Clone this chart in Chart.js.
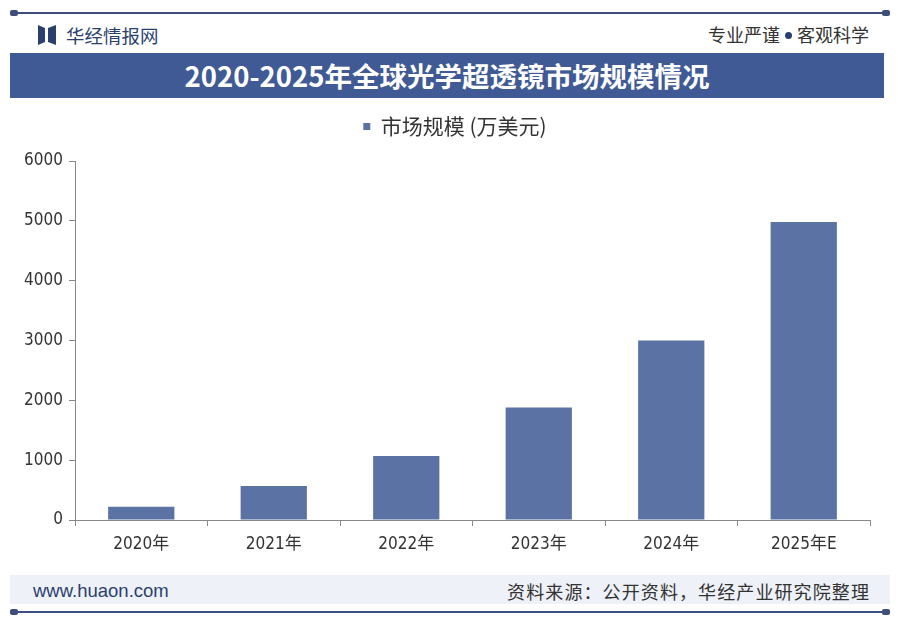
<!DOCTYPE html>
<html>
<head>
<meta charset="utf-8">
<script src="https://cdn.jsdelivr.net/npm/chart.js@4"></script>
<style>
  body { margin:0; width:900px; height:628px; background:#fff; position:relative; overflow:hidden;
         font-family:"Noto Sans CJK SC", "Liberation Sans", sans-serif; }
  .rule { position:absolute; left:10px; width:880px; height:2px; background:#3b4e7c; }
  .rule:before, .rule:after { content:""; position:absolute; top:-2px; width:8px; height:6px; background:#3b4e7c; border-radius:2px; }
  .rule:before { left:0; } .rule:after { right:0; }
  #brand { position:absolute; left:38px; top:22px; font-size:18.5px; color:#2b3f6e; display:flex; align-items:center; }
  #brand svg { margin-right:10px; }
  #motto { position:absolute; right:31px; top:21px; font-size:18px; color:#333; }
  #motto .dot { display:inline-block; width:7px; height:7px; border-radius:50%; background:#2b3f6e; vertical-align:middle; margin:0 5px 3px 5px; }
  #titlebar { position:absolute; left:10px; top:53px; width:874px; height:45px; background:#3f5a94;
              color:#fff; font-size:27.5px; font-weight:bold; text-align:center; line-height:45px; }
  #wrap { position:absolute; left:0; top:100px; width:900px; height:470px; }
  #footer { position:absolute; left:10px; top:575px; width:880px; height:29px; background:#eef1f8; }
  #site { position:absolute; left:23px; top:5px; font-size:18.5px; color:#2b3f6e; font-family:"Liberation Sans", sans-serif; }
  #source { position:absolute; right:20px; top:3px; font-size:18px; color:#333; letter-spacing:1.1px; }
</style>
</head>
<body>
<div class="rule" style="top:12px"></div>
<div id="brand">
  <svg width="18" height="20" viewBox="0 0 18 20"><path d="M0 0 L7 3 L7 17 L0 20 Z" fill="#2b3f6e"/><path d="M18 0 L10 3 L10 17 L18 20 Z" fill="#2b3f6e"/></svg>
  华经情报网
</div>
<div id="motto">专业严谨<span class="dot"></span>客观科学</div>
<div id="titlebar">2020-2025年全球光学超透镜市场规模情况</div>
<div id="wrap"><canvas id="mycanvas"></canvas></div>
<div id="footer">
  <div id="site">www.huaon.com</div>
  <div id="source">资料来源：公开资料，华经产业研究院整理</div>
</div>
<div class="rule" style="top:611px"></div>
<script>
var years = ["2020年", "2021年", "2022年", "2023年", "2024年", "2025年E"];
var marketSize = [220, 570, 1070, 1880, 3000, 4980];
var seriesName = "市场规模 (万美元)";

var tickFont = { family: "'Liberation Sans Narrow', 'DejaVu Sans Condensed', 'Noto Sans CJK SC', sans-serif", size: 17 };

// legend: leave a gap below it and nudge it right, like the original
var legendTweak = {
  id: 'legendTweak',
  beforeInit: function(chart) {
    var lg = chart.legend;
    var fit = lg.fit, draw = lg.draw;
    lg.fit = function() {
      fit.call(this);
      this.height += 14;
    };
    lg.draw = function() {
      var c = this.ctx;
      c.save();
      c.translate(20, 0);
      draw.call(this);
      c.restore();
    };
  }
};

var chartdata = {
  labels: years,
  datasets: [
    {
      label: seriesName,
      backgroundColor: '#5b72a4',
      borderWidth: 0,
      data: marketSize,
      categoryPercentage: 0.5,
      barPercentage: 1.0
    }
  ]
};

var ctx = document.getElementById("mycanvas");
var barGraph = new Chart(ctx, {
  type: 'bar',
  data: chartdata,
  plugins: [legendTweak],
  options: {
    responsive: true,
    maintainAspectRatio: false,
    animation: false,
    layout: { padding: { left: 0, right: 30, top: 4, bottom: 0 } },
    plugins: {
      legend: {
        labels: {
          boxWidth: 7, boxHeight: 7, color: '#333', padding: 12,
          font: { family: "'Noto Sans CJK SC', sans-serif", size: 21 }
        }
      },
      tooltip: { enabled: false }
    },
    scales: {
      y: {
        min: 0, max: 6000,
        ticks: { stepSize: 1000, color: '#333', font: tickFont, padding: 6,
                 callback: function(v) { return String(v); } },
        grid: { drawOnChartArea: false, color: '#888', tickLength: 6 },
        border: { color: '#888' },
        afterFit: function(s) { s.width = 75; }
      },
      x: {
        ticks: { color: '#333', font: tickFont, padding: 8 },
        grid: { drawOnChartArea: false, color: '#888', tickLength: 6, offset: true },
        border: { color: '#888' },
        afterFit: function(s) { s.height = 50; }
      }
    }
  }
});
</script>
</body>
</html>
